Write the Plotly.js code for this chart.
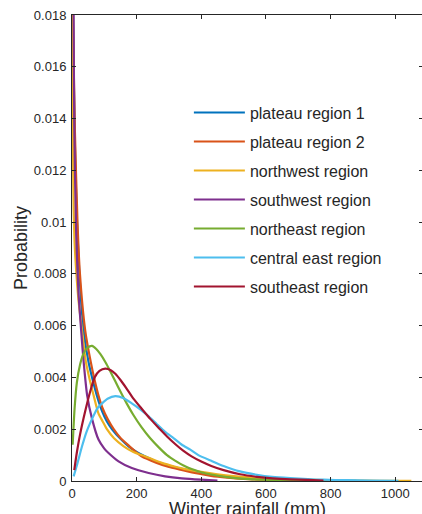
<!DOCTYPE html>
<html>
<head>
<meta charset="utf-8">
<script src="https://cdn.plot.ly/plotly-3.0.1.min.js"></script>
<style>
html,body{margin:0;padding:0;overflow:hidden;background:#fff;}
#wrap{width:422px;height:514px;overflow:hidden;}
#chart{width:423px;height:519px;}
</style>
</head>
<body>
<div id="wrap"><div id="chart"></div></div>
<script>
// Series names
const seriesNames = ["plateau region 1","plateau region 2","northwest region","southwest region","northeast region","central east region","southeast region"];
const seriesColors = ["#0072BD","#D95319","#EDB120","#7E2F8E","#77AC30","#4DBEEE","#A2142F"];

// plateau region 1
const p1X = [1, 3, 8, 14, 22, 36, 51, 64, 77, 93, 108, 124, 150, 175, 200, 227, 271, 310, 350, 400, 450, 500, 550, 600, 650, 700, 750];
const p1Y = [0.025, 0.018, 0.0135, 0.0105, 0.0082, 0.0058, 0.0046, 0.0039, 0.0033, 0.0027, 0.0023, 0.0020, 0.00163, 0.00134, 0.00112, 0.00095, 0.00070, 0.00056, 0.00044, 0.00031, 0.00022, 0.00015, 0.00010, 0.00007, 0.00005, 0.00003, 0.00002];
// plateau region 2
const p2X = [1, 3, 9, 17, 24, 41, 58, 70, 82, 95, 110, 129, 150, 178, 200, 215, 262, 300, 335, 380, 430, 480, 530, 590, 650, 700];
const p2Y = [0.026, 0.018, 0.0135, 0.0100, 0.0081, 0.0058, 0.0046, 0.0039, 0.0033, 0.0028, 0.0024, 0.0020, 0.00166, 0.00134, 0.00110, 0.00095, 0.00070, 0.00054, 0.00044, 0.00031, 0.00020, 0.00013, 0.00008, 0.00005, 0.00003, 0.00002];
// northwest region
const nwX = [1, 3, 5, 8, 12, 20, 31, 43, 55, 67, 82, 95, 108, 130, 160, 190, 227, 278, 320, 350, 400, 450, 500, 550, 650, 750, 850, 950, 1050];
const nwY = [0.022, 0.013, 0.0105, 0.0092, 0.0083, 0.0070, 0.0058, 0.0046, 0.0039, 0.0033, 0.0026, 0.0023, 0.0020, 0.00165, 0.00134, 0.00112, 0.00095, 0.00070, 0.00055, 0.00046, 0.00035, 0.00026, 0.00019, 0.00014, 0.00008, 0.00004, 0.00002, 0.00001, 0.000005];
// southwest region
const swX = [2, 5, 7, 13, 20, 29, 36, 47, 62, 82, 100, 113, 144, 185, 237, 288, 340, 400, 450];
const swY = [0.030, 0.018, 0.0138, 0.0095, 0.0073, 0.0057, 0.0046, 0.0033, 0.0024, 0.0016, 0.00125, 0.00108, 0.00076, 0.00050, 0.00031, 0.00018, 0.00010, 0.00005, 0.00002];
// northeast region
const neX = [2, 8, 15, 25, 35, 48, 62, 75, 88, 104, 118, 134, 149, 170, 190, 215, 242, 270, 294, 320, 345, 370, 400, 431, 480, 550, 650, 750, 880];
const neY = [0.0014, 0.0028, 0.0038, 0.0045, 0.0049, 0.00515, 0.00522, 0.0051, 0.0049, 0.00458, 0.00425, 0.00385, 0.00348, 0.00298, 0.00255, 0.00208, 0.00165, 0.00128, 0.00100, 0.00078, 0.00060, 0.00046, 0.00034, 0.00025, 0.00015, 0.00007, 0.00003, 0.00001, 0.000003];
// central east region
const ceX = [5, 15, 31, 45, 62, 78, 93, 110, 134, 160, 185, 210, 237, 262, 288, 315, 340, 366, 391, 431, 469, 520, 572, 620, 675, 730, 778, 850, 930, 1010];
const ceY = [0.00018, 0.0006, 0.00134, 0.0019, 0.0024, 0.0028, 0.0030, 0.00318, 0.00328, 0.0032, 0.0030, 0.00278, 0.0025, 0.0022, 0.0019, 0.00165, 0.0014, 0.00121, 0.0010, 0.00078, 0.00058, 0.00037, 0.00024, 0.00016, 0.00011, 0.00007, 0.00005, 0.00003, 0.00002, 0.00001];
// southeast region
const seX = [7, 15, 25, 41, 55, 70, 85, 103, 120, 134, 150, 170, 190, 215, 242, 270, 294, 320, 345, 370, 400, 431, 469, 520, 572, 620, 675, 730, 778];
const seY = [0.00042, 0.0011, 0.0018, 0.0027, 0.0034, 0.0040, 0.00425, 0.00434, 0.00428, 0.00414, 0.0039, 0.00355, 0.00318, 0.0028, 0.0024, 0.00203, 0.00172, 0.00142, 0.00116, 0.00095, 0.00075, 0.00058, 0.00042, 0.00026, 0.00016, 0.00010, 0.00006, 0.00004, 0.00002];

const xTicks = [0, 200, 400, 600, 800, 1000];
const yTicks = [0, 0.002, 0.004, 0.006, 0.008, 0.01, 0.012, 0.014, 0.016, 0.018];

const allX = [p1X, p2X, nwX, swX, neX, ceX, seX];
const allY = [p1Y, p2Y, nwY, swY, neY, ceY, seY];

const FONT = "Liberation Sans, Arial, Helvetica, sans-serif";
const traces = seriesNames.map((n, i) => ({
  type: "scatter", mode: "lines", name: n,
  x: allX[i], y: allY[i],
  line: {color: seriesColors[i], width: 2.2, shape: "spline", smoothing: 0.6},
  legendgroup: "g" + i,
  hoverinfo: "skip"
}));

const axisCommon = {
  showgrid: false, zeroline: false, showline: true, linecolor: "#262626", linewidth: 1,
  mirror: "ticks", ticks: "inside", ticklen: 4, tickcolor: "#262626", tickwidth: 1,
  tickfont: {family: FONT, size: 13, color: "#262626"}
};

const layout = {
  width: 423, height: 519,
  margin: {l: 72, r: 0, t: 15, b: 38},
  paper_bgcolor: "#fff", plot_bgcolor: "#fff",
  font: {family: FONT, color: "#262626"},
  showlegend: true,
  legend: {
    x: 0.333, y: 0.827, xanchor: "left", yanchor: "top",
    bgcolor: "rgba(255,255,255,1)", borderwidth: 0,
    font: {family: FONT, size: 16, color: "#262626"},
    tracegroupgap: 5.2, itemwidth: 51
  },
  xaxis: Object.assign({}, axisCommon, {
    range: [0, 1086], tickvals: xTicks, ticktext: xTicks.map(String),
    title: {text: "Winter rainfall (mm)", font: {family: FONT, size: 18, color: "#262626"}, standoff: 2}
  }),
  yaxis: Object.assign({}, axisCommon, {
    range: [0, 0.018], tickvals: yTicks, ticktext: yTicks.map(v => String(v)),
    ticklabelstandoff: 2,
    title: {text: "Probability", font: {family: FONT, size: 18, color: "#262626"}, standoff: 1}
  })
};

Plotly.newPlot("chart", traces, layout, {staticPlot: true, displayModeBar: false});
</script>
</body>
</html>
